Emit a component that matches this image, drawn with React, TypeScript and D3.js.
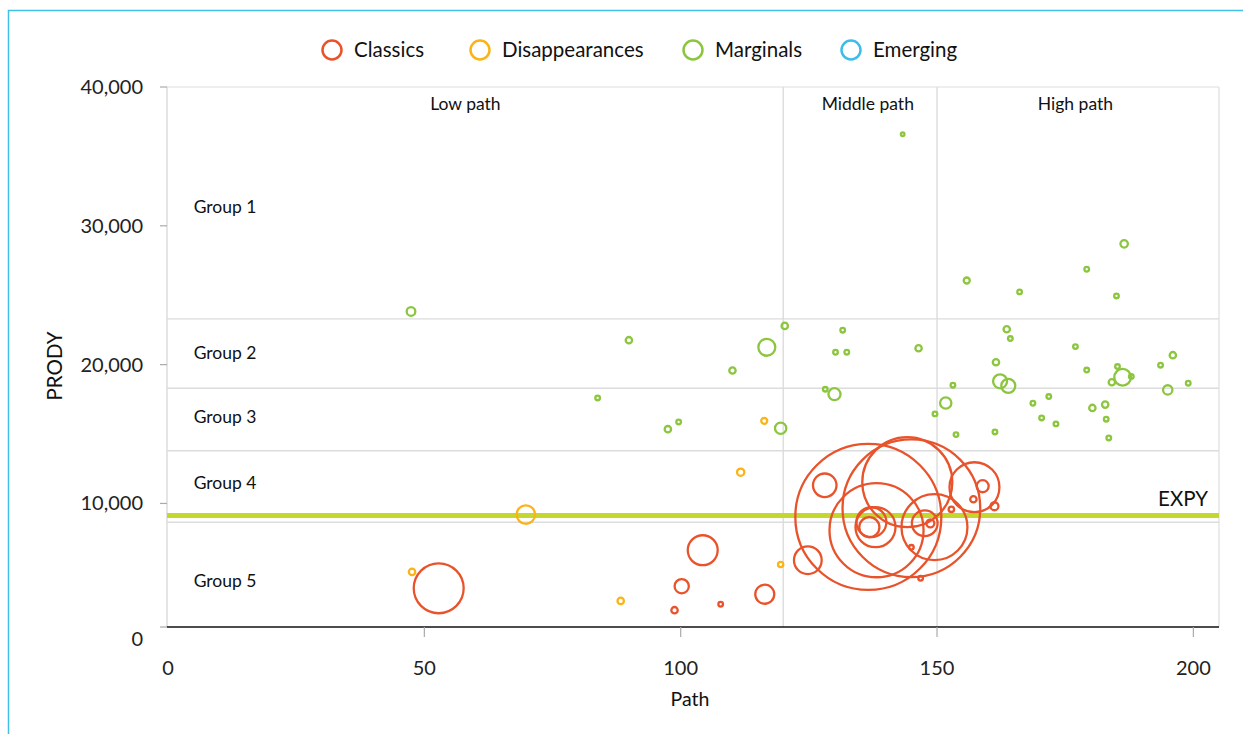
import React from "react";
import * as d3 from "d3";

// ---------- data ----------
const seriesNames = ["Classics", "Disappearances", "Marginals", "Emerging"];
const seriesColors = ["#E8532B", "#FBB316", "#8CC63E", "#3DBDE8"];

// [Path, PRODY, size]
const classics: [number, number, number][] = [
  [136.6, 9030, 100], [144.2, 11530, 38], [145.0, 9650, 89], [138.2, 8070, 41.5],
  [149.5, 8290, 20.4], [157.3, 11170, 11.7], [128.1, 11310, 2.6], [124.8, 5910, 3.6],
  [138.0, 8290, 7.5], [137.2, 8650, 4.2], [136.8, 8290, 1.9], [147.6, 8570, 3.1],
  [148.7, 8570, 0.3], [158.9, 11240, 0.68], [157.1, 10300, 0.19], [161.2, 9800, 0.3],
  [152.8, 9580, 0.14], [145.0, 6840, 0.1], [146.8, 4610, 0.1], [104.3, 6630, 4.2],
  [100.2, 4040, 0.95], [98.8, 2310, 0.19], [107.8, 2740, 0.1], [116.4, 3460, 1.7],
  [52.8, 3890, 11.7],
];
const disappearances: [number, number, number][] = [
  [47.6, 5070, 0.19], [69.8, 9200, 1.6], [88.3, 2980, 0.19], [111.7, 12250, 0.25],
  [116.3, 15950, 0.17], [119.5, 5600, 0.13],
];
const marginals: [number, number, number][] = [
  [47.4, 23830, 0.35], [89.9, 21760, 0.19], [83.8, 17600, 0.1], [97.5, 15350, 0.19],
  [99.6, 15870, 0.1], [110.1, 19580, 0.19], [116.8, 21250, 1.35], [119.5, 15420, 0.6],
  [120.3, 22790, 0.19], [130.0, 17870, 0.68], [128.2, 18230, 0.1], [131.6, 22480, 0.1],
  [130.2, 20890, 0.1], [132.4, 20890, 0.1], [143.3, 36600, 0.06], [146.4, 21180, 0.19],
  [151.7, 17240, 0.6], [149.6, 16450, 0.1], [153.1, 18520, 0.1], [153.7, 14960, 0.1],
  [155.8, 26060, 0.17], [161.3, 15150, 0.1], [161.5, 20170, 0.19], [162.3, 18800, 0.92],
  [163.9, 18470, 0.92], [163.6, 22550, 0.19], [164.3, 21880, 0.1], [166.1, 25240, 0.1],
  [168.7, 17220, 0.1], [170.4, 16160, 0.1], [171.8, 17700, 0.1], [173.2, 15730, 0.1],
  [177.0, 21300, 0.1], [179.2, 26870, 0.1], [179.2, 19610, 0.1], [180.3, 16880, 0.19],
  [182.8, 17120, 0.19], [183.0, 16070, 0.1], [183.5, 14720, 0.1], [184.1, 18730, 0.19],
  [185.0, 24950, 0.1], [185.2, 19860, 0.1], [186.2, 19090, 1.3], [186.5, 28700, 0.26],
  [187.9, 19140, 0.1], [193.6, 19960, 0.1], [195.0, 18180, 0.41], [196.0, 20680, 0.19],
  [199.0, 18660, 0.1],
];
const emerging: [number, number, number][] = [];

const seriesData = [classics, disappearances, marginals, emerging];

const xTicks = [0, 50, 100, 150, 200];
const yTicks = [0, 10000, 20000, 30000, 40000];
const groupBounds = [8650, 13800, 18300, 23300];
const groupLabels = ["Group 5", "Group 4", "Group 3", "Group 2", "Group 1"];
const groupLabelY = [4400, 11470, 16230, 20840, 31360];
const pathBounds = [120, 150];
const pathLabels = ["Low path", "Middle path", "High path"];
const pathLabelX = [58, 136.5, 177];
const expy = 9130;

// ---------- layout ----------
const W = 1243, H = 734;
const left = 167, right = 1219, top = 87, bottom = 627;
const yMin = 1100;
const FONT = "Lato, 'Open Sans', sans-serif";

export default function App() {
  const x = d3.scaleLinear().domain([0, 205]).range([left + 1, right]);
  const y = d3.scaleLinear().domain([yMin, 40000]).range([bottom, top]);
  const r = d3.scaleSqrt().domain([0, 100]).range([0, 73]);
  const fmt = d3.format(",");

  const legendX = [322, 470, 683, 841];

  return (
    <div style={{ position: "absolute", left: 0, top: 0 }}>
      <svg width={W} height={H} style={{ display: "block", fontFamily: FONT }}>
        <rect x={0} y={0} width={W} height={H} fill="#fff" />
        {/* frame */}
        <rect x={8.5} y={10.5} width={W + 20} height={H + 20} fill="none" stroke="#41BFE6" strokeWidth={1.5} />

        {/* legend */}
        {seriesNames.map((n, i) => (
          <g key={n} transform={`translate(${legendX[i]},50)`}>
            <circle cx={10} cy={0} r={9.5} fill="none" stroke={seriesColors[i]} strokeWidth={2.5} />
            <text x={32} y={0} dy="0.35em" fontSize={20.5} fill="#111">{n}</text>
          </g>
        ))}

        {/* plot frame */}
        <line x1={left} x2={right} y1={top} y2={top} stroke="#dedede" strokeWidth={1.2} />
        <line x1={right} x2={right} y1={top} y2={bottom} stroke="#dedede" strokeWidth={1.2} />
        <line x1={left} x2={left} y1={top} y2={bottom} stroke="#d4d4d4" strokeWidth={1.2} />

        {/* group boundaries */}
        {groupBounds.map((b) => (
          <line key={b} x1={left} x2={right} y1={y(b)} y2={y(b)} stroke="#dcdcdc" strokeWidth={1.4} />
        ))}
        {/* path boundaries */}
        {pathBounds.map((b) => (
          <line key={b} x1={x(b)} x2={x(b)} y1={top} y2={bottom} stroke="#dcdcdc" strokeWidth={1.4} />
        ))}

        {/* group labels */}
        {groupLabels.map((g, i) => (
          <text key={g} x={x(5)} y={y(groupLabelY[i])} dy="0.35em" fontSize={17.5} fill="#111">{g}</text>
        ))}
        {/* path labels */}
        {pathLabels.map((p, i) => (
          <text key={p} x={x(pathLabelX[i])} y={104} dy="0.35em" textAnchor="middle" fontSize={17.5} fill="#111">{p}</text>
        ))}

        {/* EXPY */}
        <line x1={left} x2={right} y1={y(expy)} y2={y(expy)} stroke="#C5D62C" strokeWidth={5} />
        <text x={right - 11} y={y(expy) - 10} textAnchor="end" fontSize={20.5} fill="#111">EXPY</text>

        {/* y axis ticks */}
        {yTicks.map((t) => {
          const yy = y(Math.max(t, yMin));
          return (
            <g key={t}>
              <line x1={left - 7} x2={left} y1={yy} y2={yy} stroke="#aaa" strokeWidth={1.2} />
              <text x={143} y={t === 0 ? yy + 12 : yy} dy="0.35em" textAnchor="end" fontSize={20} fill="#222">{fmt(t)}</text>
            </g>
          );
        })}
        {/* x axis */}
        <line x1={left} x2={right} y1={bottom} y2={bottom} stroke="#111" strokeWidth={1.5} />
        {xTicks.map((t) => (
          <g key={t}>
            {t > 0 && <line x1={x(t)} x2={x(t)} y1={bottom} y2={bottom + 10} stroke="#aaa" strokeWidth={1.2} />}
            <text x={x(t)} y={668} dy="0.35em" textAnchor="middle" fontSize={20} fill="#222">{t}</text>
          </g>
        ))}
        <text x={690} y={699} dy="0.35em" textAnchor="middle" fontSize={19.5} fill="#111">Path</text>
        <text transform={`translate(55,366) rotate(-90)`} dy="0.35em" textAnchor="middle" fontSize={20.5} fill="#111">PRODY</text>

        {/* markers */}
        {seriesData.map((s, i) => (
          <g key={i}>
            {s.map((d, j) => (
              <circle key={j} cx={x(d[0])} cy={y(d[1])} r={Math.max(r(d[2]), 1.6)} fill="none" stroke={seriesColors[i]} strokeWidth={2.3} />
            ))}
          </g>
        ))}
      </svg>
    </div>
  );
}
